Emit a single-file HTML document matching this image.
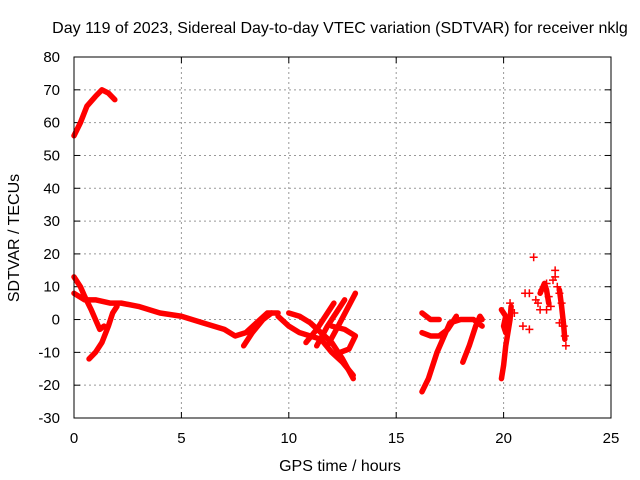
<!DOCTYPE html>
<html><head><meta charset="utf-8"><style>
body{margin:0;background:#fff}
svg{display:block;font-family:"Liberation Sans",sans-serif}
</style></head><body>
<svg id="chart" width="640" height="480">
<text x="340" y="33" font-size="16" text-anchor="middle">Day 119 of 2023, Sidereal Day-to-day VTEC variation (SDTVAR) for receiver nklg</text>
<text x="340" y="471" font-size="16" text-anchor="middle">GPS time / hours</text>
<text transform="translate(19,238) rotate(-90)" font-size="16" text-anchor="middle">SDTVAR / TECUs</text>
<g id="grid"></g><g id="marks"></g>
<rect x="74" y="57" width="537" height="361" fill="none" stroke="#000"/>
</svg>
<script>
const xTicks=[0,5,10,15,20,25];
const yTicks=[-30,-20,-10,0,10,20,30,40,50,60,70,80];
const trace1=[[0,56],[0.3,60],[0.6,65],[1,68],[1.3,70],[1.6,69],[1.9,67]];
const trace2=[[0,13],[0.3,10],[0.5,7],[0.8,3],[1,0],[1.2,-3],[1.4,-2]];
const trace3=[[0,8],[0.5,6],[1,6],[1.7,5],[2.2,5],[3,4],[4,2],[5,1],[6,-1],[7,-3],[7.5,-5],[8,-4],[8.5,-1],[9,2],[9.5,2]];
const trace4=[[0.7,-12],[1,-10],[1.3,-7],[1.6,-2],[1.8,2],[2,4]];
const trace5=[[7.9,-8],[8.3,-4],[8.8,0],[9.2,2]];
const trace6=[[9.5,1],[10,-2],[10.5,-4],[11,-5],[11.5,-6],[12,-10],[12.5,-13],[13,-17]];
const trace7=[[10,2],[10.5,1],[11,-1],[11.5,-4],[12,-7],[12.5,-12],[13,-18]];
const trace8=[[10.8,-7],[11.3,-3],[11.7,1],[12.1,5]];
const trace9=[[11.3,-8],[11.8,-2],[12.2,2],[12.6,6]];
const trace10=[[11.8,-8],[12.3,-2],[12.7,3],[13.1,8]];
const trace11=[[12,-2],[12.6,-3],[13.1,-5],[12.8,-9],[12.4,-10]];
const trace12=[[16.2,-22],[16.5,-18],[16.9,-10],[17.3,-4],[17.5,-1],[18,0],[18.6,0],[19,-2]];
const trace13=[[16.2,2],[16.6,0],[17,0]];
const trace14=[[16.2,-4],[16.6,-5],[17,-5],[17.4,-3],[17.8,1]];
const trace15=[[18.1,-13],[18.4,-8],[18.7,-2],[18.9,1],[19,0]];
const trace16=[[19.9,-18],[20,-14],[20.1,-8],[20.2,-4],[20.3,0],[20.35,4]];
const trace17=[[19.9,3],[20.1,1],[20,-2],[20.1,-4]];
const trace18=[[21.7,8],[21.9,11],[22.0,9],[22.1,5]];
const trace19=[[22.6,9],[22.7,4],[22.8,-2],[22.85,-6]];
const traces=[trace1,trace2,trace3,trace4,trace5,trace6,trace7,trace8,trace9,trace10,trace11,trace12,trace13,trace14,trace15,trace16,trace17,trace18,trace19];
const scatterX=[20.9,21.2,21.4,21.6,21.7,21.9,22.1,22.3,22.4,22.5,22.6,22.7,22.8,22.85,22.9,21,21.2,21.5,22,22.2,22.6,20.3,20.5,21.8,22.0,22.4];
const scatterY=[-2,-3,19,5,3,10,7,12,15,10,8,5,-2,-5,-8,8,8,6,3,4,-1,5,2,9,11,13];
const NS='http://www.w3.org/2000/svg';
const X=h=>74+h*537/25, Y=v=>418-(v+30)*361/110;
const grid=document.getElementById('grid'), marks=document.getElementById('marks');
function mk(tag,attrs,parent){const e=document.createElementNS(NS,tag);for(const k in attrs)e.setAttribute(k,attrs[k]);parent.appendChild(e);return e;}
xTicks.forEach(t=>{const x=X(t);
 if(t>0&&t<25){const l=mk('line',{x1:x,x2:x,y1:57,y2:418,stroke:'#999','stroke-dasharray':'2,3'},grid);}
 mk('line',{x1:x,x2:x,y1:418,y2:412,stroke:'#000'},grid);mk('line',{x1:x,x2:x,y1:57,y2:63,stroke:'#000'},grid);
 const tx=mk('text',{x:x,y:443,'font-size':15,'text-anchor':'middle'},grid);tx.textContent=t;
 });
yTicks.forEach(t=>{const y=Y(t);
 if(t>-30&&t<80){const l=mk('line',{x1:74,x2:611,y1:y,y2:y,stroke:'#999','stroke-dasharray':'2,3'},grid);}
 mk('line',{x1:74,x2:80,y1:y,y2:y,stroke:'#000'},grid);mk('line',{x1:605,x2:611,y1:y,y2:y,stroke:'#000'},grid);
 const tx=mk('text',{x:60,y:y+5,'font-size':15,'text-anchor':'end'},grid);tx.textContent=t;
 });
traces.forEach(tr=>{const p=mk('polyline',{points:tr.map(d=>X(d[0])+','+Y(d[1])).join(' '),fill:'none',stroke:'#f00','stroke-width':5.5,'stroke-linejoin':'round','stroke-linecap':'round'},marks);
 });
scatterX.forEach((h,i)=>{const x=X(h),y=Y(scatterY[i]);
 const p=mk('path',{d:`M${x-4},${y}h8M${x},${y-4}v8`,stroke:'#f00','stroke-width':1.5},marks);
 });
</script>
</body></html>
